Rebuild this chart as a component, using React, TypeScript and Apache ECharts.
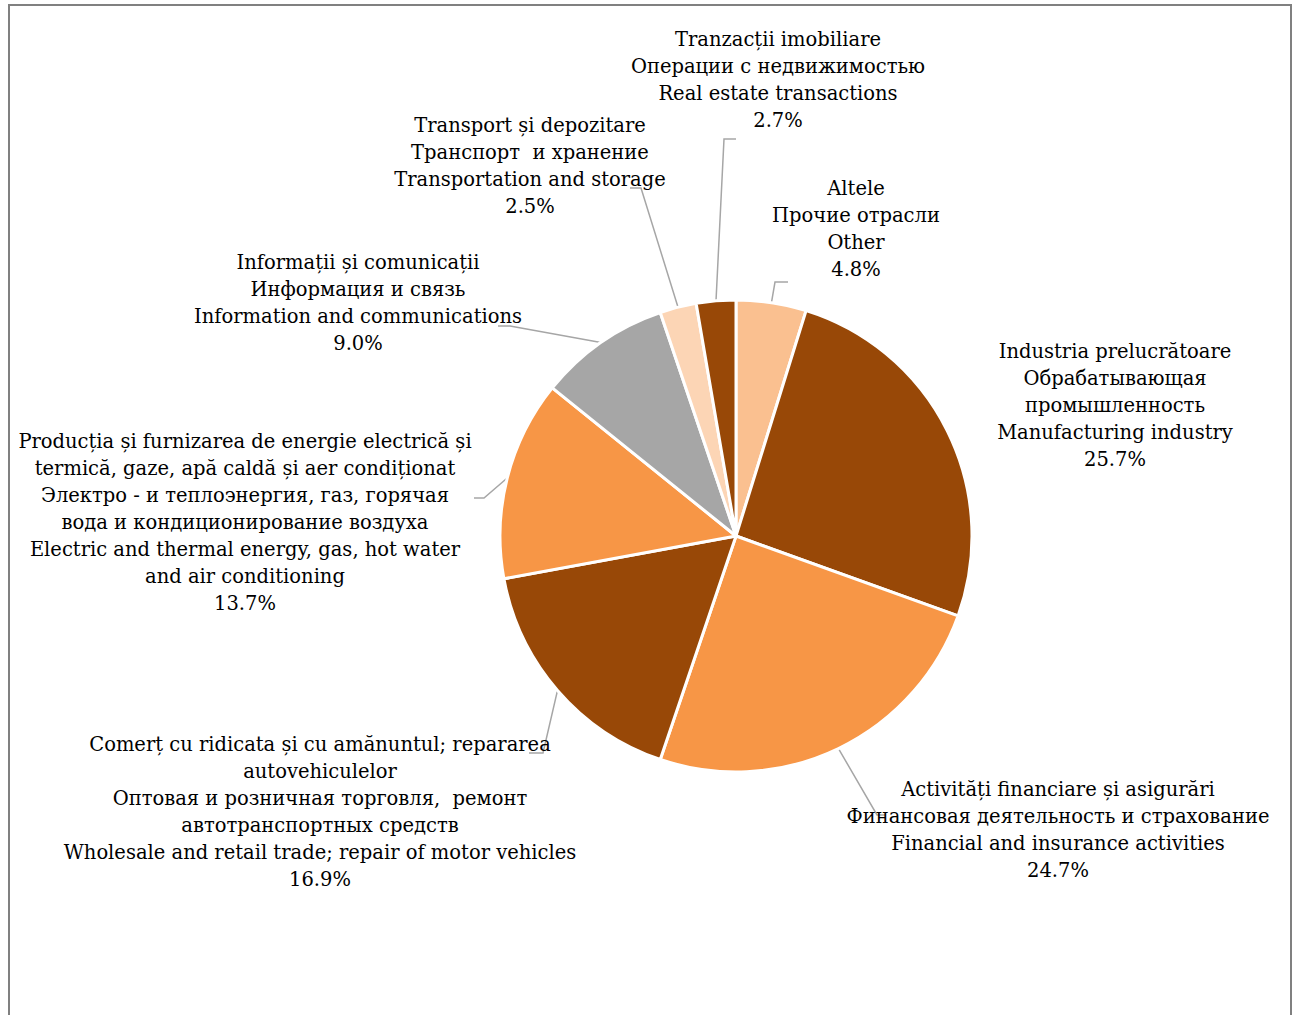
import React, { useEffect, useRef } from "react";
import * as echarts from "echarts";

const categoriesRo = [
  "Altele",
  "Industria prelucrătoare",
  "Activități financiare și asigurări",
  "Comerț cu ridicata și cu amănuntul; repararea\nautovehiculelor",
  "Producția și furnizarea de energie electrică și\ntermică, gaze, apă caldă și aer condiționat",
  "Informații și comunicații",
  "Transport și depozitare",
  "Tranzacții imobiliare",
];
const categoriesRu = [
  "Прочие отрасли",
  "Обрабатывающая\nпромышленность",
  "Финансовая деятельность и страхование",
  "Оптовая и розничная торговля,  ремонт\nавтотранспортных средств",
  "Электро - и теплоэнергия, газ, горячая\nвода и кондиционирование воздуха",
  "Информация и связь",
  "Транспорт  и хранение",
  "Операции с недвижимостью",
];
const categoriesEn = [
  "Other",
  "Manufacturing industry",
  "Financial and insurance activities",
  "Wholesale and retail trade; repair of motor vehicles",
  "Electric and thermal energy, gas, hot water\nand air conditioning",
  "Information and communications",
  "Transportation and storage",
  "Real estate transactions",
];
const shares = [4.8, 25.7, 24.7, 16.9, 13.7, 9.0, 2.5, 2.7];
const colors = ["#FAC090", "#984807", "#F79646", "#984807", "#F79646", "#A6A6A6", "#FCD5B5", "#984807"];

// label layout (positions only)
const CX = 736;
const CY = 536;
const R = 236;
const labelCenters = [
  [856, 229],
  [1115, 405],
  [1058, 830],
  [320, 812],
  [245, 522],
  [358, 303],
  [530, 166],
  [778, 80],
];
// elbow and end of each leader line (null = no line)
const leaderPts: (number[][] | null)[] = [
  [[775, 282], [788, 282]],
  null,
  [[877, 815], [886, 815]],
  [[543, 753], [529, 753]],
  [[484, 498], [474, 498]],
  [[510, 326], [498, 326]],
  [[641, 188], [630, 188]],
  [[724, 139], [736, 139]],
];

export default function App() {
  const ref = useRef<HTMLDivElement>(null);
  useEffect(() => {
    if (!ref.current) return;
    const chart = echarts.init(ref.current, undefined, { renderer: "svg" });
    const total = shares.reduce((a, b) => a + b, 0);
    const mids: number[] = [];
    let acc = 0;
    shares.forEach((v) => {
      mids.push(((acc + v / 2) / total) * 360);
      acc += v;
    });
    const data = shares.map((v, i) => ({
      value: v,
      name: categoriesRo[i] + "\n" + categoriesRu[i] + "\n" + categoriesEn[i] + "\n" + v.toFixed(1) + "%",
      itemStyle: { color: colors[i] },
      labelLine: { show: leaderPts[i] !== null },
    }));
    chart.setOption({
      animation: false,
      backgroundColor: "#ffffff",
      graphic: [
        {
          type: "rect",
          shape: { x: 9, y: 5, width: 1282, height: 1100 },
          style: { fill: "none", stroke: "#808080", lineWidth: 2 },
          silent: true,
        },
      ],
      series: [
        {
          type: "pie",
          center: [CX, CY],
          radius: R,
          startAngle: 90,
          clockwise: true,
          avoidLabelOverlap: false,
          data,
          itemStyle: { borderColor: "#ffffff", borderWidth: 3 },
          label: {
            show: true,
            formatter: "{b}",
            fontFamily: "DejaVu Serif",
            fontSize: 19.5,
            lineHeight: 27,
            color: "#000000",
            align: "center",
          },
          labelLine: {
            show: true,
            lineStyle: { color: "#A6A6A6", width: 1.5 },
          },
          labelLayout: (params: any) => {
            const i = params.dataIndex;
            const [x, y] = labelCenters[i];
            const out: any = { x, y, align: "center", verticalAlign: "middle" };
            const lp = leaderPts[i];
            if (lp) {
              const a = (mids[i] * Math.PI) / 180;
              const sx = CX + R * Math.sin(a);
              const sy = CY - R * Math.cos(a);
              out.labelLinePoints = [[sx, sy], lp[0], lp[1]];
            }
            return out;
          },
        },
      ],
    });
    return () => chart.dispose();
  }, []);
  return (
    <div
      ref={ref}
      style={{ position: "fixed", left: 0, top: 0, width: 1298, height: 1015, background: "#fff" }}
    />
  );
}
